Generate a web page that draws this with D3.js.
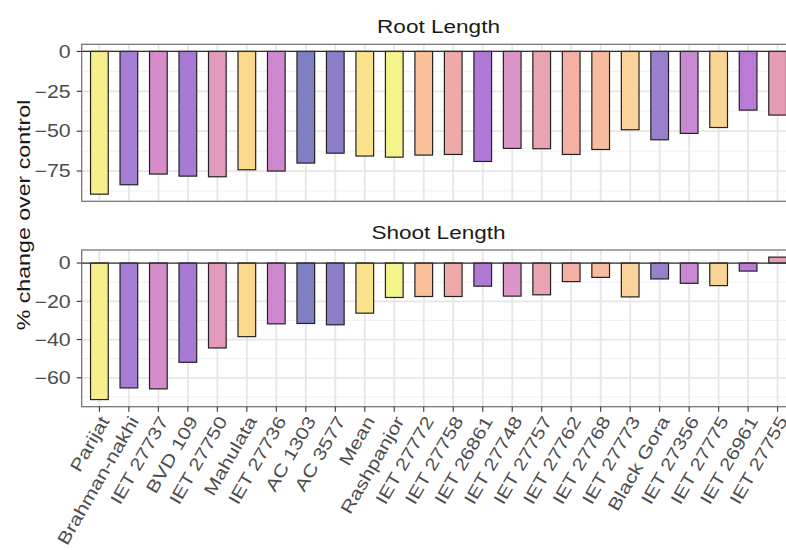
<!DOCTYPE html>
<html>
<head>
<meta charset="utf-8">
<script src="https://cdn.jsdelivr.net/npm/d3@7"></script>
<style>
  body { margin: 0; background: #fff; overflow: hidden; }
  text { font-family: "Liberation Sans", Arial, sans-serif; }
</style>
</head>
<body>
<div id="chart"></div>
<script>
// data
const categories = ["Parijat", "Brahman-nakhi", "IET 27737", "BVD 109", "IET 27750",
  "Mahulata", "IET 27736", "AC 1303", "AC 3577", "Mean", "Rashpanjor", "IET 27772",
  "IET 27758", "IET 26861", "IET 27748", "IET 27757", "IET 27762", "IET 27768",
  "IET 27773", "Black Gora", "IET 27356", "IET 27775", "IET 26961", "IET 27755"];

const rootLength = [-89.5, -83.6, -76.9, -78.2, -78.6, -74.2, -75.0, -70.0, -63.8, -65.6,
  -66.3, -65.0, -64.6, -69.0, -60.8, -61.0, -64.6, -61.5, -49.1, -55.4, -51.4, -47.7, -36.8, -39.9];

const shootLength = [-71.4, -65.3, -65.8, -51.9, -44.4, -38.5, -31.8, -31.6, -32.3, -26.2,
  -18.0, -17.5, -17.5, -12.1, -17.3, -16.6, -9.7, -7.5, -17.7, -8.3, -10.6, -11.8, -4.2, 3.1];

const rootTicks = [0, -25, -50, -75];
const rootMinor = [-12.5, -37.5, -62.5, -87.5];
const shootTicks = [0, -20, -40, -60];
const shootMinor = [-10, -30, -50, -70];

const barColors = ["#f6ef8c", "#a57ed5", "#d48dc6", "#a87ad6", "#e29bbd", "#fbd98c",
  "#cd88cf", "#7e80c3", "#8e7dc8", "#f9e48c", "#f3f58a", "#f9c19a", "#eeaaa8", "#b079d6",
  "#dc96c6", "#e8a5b0", "#f4b0a4", "#f7bca0", "#fbd29c", "#9a80cc", "#c888d2", "#fbd596",
  "#b97bd6", "#e59db6"];

const width = 786, height = 550;
const stretch = 1.22; // the reference font is wide

const svg = d3.select("#chart").append("svg")
  .attr("width", width)
  .attr("height", height);

const x = d3.scaleBand()
  .domain(categories)
  .range([81.7, 795.3])
  .paddingInner(0.4)
  .paddingOuter(0.3);

const color = d3.scaleOrdinal(categories, barColors);

function expandDomain(values) {
  const lo = Math.min(0, d3.min(values));
  const hi = Math.max(0, d3.max(values));
  const pad = (hi - lo) * 0.05;
  return [lo - pad, hi + pad];
}

function drawPanel(title, values, ticks, minor, top, bottom, showX) {
  const y = d3.scaleLinear().domain(expandDomain(values)).range([bottom, top]);
  const g = svg.append("g");
  const left = x.range()[0], right = x.range()[1];

  // strip title
  g.append("text")
    .attr("transform", `translate(${(left + right) / 2},${top - 11}) scale(${stretch},1)`)
    .attr("text-anchor", "middle")
    .attr("font-size", 18.5)
    .attr("fill", "#1a1a1a")
    .text(title);

  // grid
  g.append("g").selectAll("line.minor")
    .data(minor)
    .join("line")
    .attr("x1", left).attr("x2", right)
    .attr("y1", d => y(d)).attr("y2", d => y(d))
    .attr("stroke", "#f0f0f0").attr("stroke-width", 1);

  g.append("g").selectAll("line.major")
    .data(ticks)
    .join("line")
    .attr("x1", left).attr("x2", right)
    .attr("y1", d => y(d)).attr("y2", d => y(d))
    .attr("stroke", "#e6e6e6").attr("stroke-width", 1.8);

  g.append("g").selectAll("line.vert")
    .data(categories)
    .join("line")
    .attr("x1", d => x(d) + x.bandwidth() / 2).attr("x2", d => x(d) + x.bandwidth() / 2)
    .attr("y1", top).attr("y2", bottom)
    .attr("stroke", "#e6e6e6").attr("stroke-width", 1.8);

  // bars
  g.append("g").selectAll("rect")
    .data(categories)
    .join("rect")
    .attr("x", d => x(d))
    .attr("width", x.bandwidth())
    .attr("y", (d, i) => y(Math.max(0, values[i])))
    .attr("height", (d, i) => Math.abs(y(values[i]) - y(0)))
    .attr("fill", d => color(d))
    .attr("stroke", "#222")
    .attr("stroke-width", 1.2);

  // zero line
  g.append("line")
    .attr("x1", left).attr("x2", right)
    .attr("y1", y(0)).attr("y2", y(0))
    .attr("stroke", "#333").attr("stroke-width", 1.2);

  // panel border
  g.append("rect")
    .attr("x", left).attr("y", top)
    .attr("width", right - left).attr("height", bottom - top)
    .attr("fill", "none")
    .attr("stroke", "#777").attr("stroke-width", 1.3);

  // y axis
  const ya = g.append("g");
  ya.selectAll("line")
    .data(ticks)
    .join("line")
    .attr("x1", left - 5).attr("x2", left)
    .attr("y1", d => y(d)).attr("y2", d => y(d))
    .attr("stroke", "#333").attr("stroke-width", 1.1);
  ya.selectAll("text")
    .data(ticks)
    .join("text")
    .attr("transform", d => `translate(${left - 11},${y(d)}) scale(${stretch},1)`)
    .attr("dy", "0.36em")
    .attr("text-anchor", "end")
    .attr("font-size", 17.5)
    .attr("fill", "#4d4d4d")
    .text(d => d3.format("d")(d));

  if (showX) {
    const xa = g.append("g");
    xa.selectAll("line")
      .data(categories)
      .join("line")
      .attr("x1", d => x(d) + x.bandwidth() / 2).attr("x2", d => x(d) + x.bandwidth() / 2)
      .attr("y1", bottom).attr("y2", bottom + 5)
      .attr("stroke", "#333").attr("stroke-width", 1.1);
    xa.selectAll("text")
      .data(categories)
      .join("text")
      .attr("transform", d => `translate(${x(d) + x.bandwidth() / 2},${bottom + 8}) rotate(-60) scale(${stretch},1)`)
      .attr("dy", "0.7em")
      .attr("text-anchor", "end")
      .attr("font-size", 17.5)
      .attr("fill", "#4d4d4d")
      .text(d => d);
  }
}

drawPanel("Root Length", rootLength, rootTicks, rootMinor, 44.3, 201.3, false);
drawPanel("Shoot Length", shootLength, shootTicks, shootMinor, 250, 406.7, true);

// shared y title
svg.append("text")
  .attr("transform", `translate(30,215) rotate(-90) scale(${stretch},1)`)
  .attr("text-anchor", "middle")
  .attr("font-size", 19)
  .attr("fill", "#1a1a1a")
  .text("% change over control");
</script>
</body>
</html>
